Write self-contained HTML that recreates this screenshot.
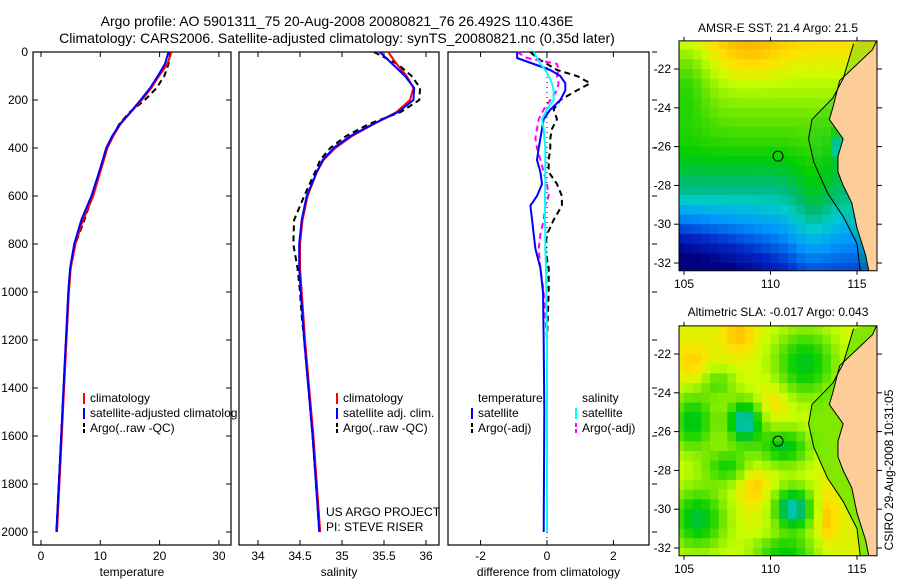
<!DOCTYPE html>
<html><head><meta charset="utf-8"><style>
html,body{margin:0;padding:0;background:#fff;}
svg{display:block;font-family:"Liberation Sans",sans-serif;}
</style></head><body>
<svg id="fig" width="900" height="580" xmlns="http://www.w3.org/2000/svg">
<text x="337" y="26" font-size="14" text-anchor="middle">Argo profile: AO 5901311_75 20-Aug-2008 20080821_76 26.492S 110.436E</text>
<text x="337" y="43" font-size="14" text-anchor="middle">Climatology: CARS2006. Satellite-adjusted climatology: synTS_20080821.nc (0.35d later)</text>
<text x="778" y="32" font-size="12" text-anchor="middle">AMSR-E SST: 21.4 Argo: 21.5</text>
<text x="778" y="316" font-size="12" text-anchor="middle">Altimetric SLA: -0.017 Argo: 0.043</text>
<text x="0" y="0" font-size="12" text-anchor="middle" transform="translate(893,470) rotate(-90)">CSIRO 29-Aug-2008 10:31:05</text>
</svg>
<script>
const depth = [0,50,100,150,200,250,300,350,400,450,500,600,700,800,900,1000,1100,1200,1400,1600,1800,2000];
const tempClim = [22.0,21.3,19.9,18.6,17.0,15.2,13.4,12.2,11.2,10.6,10.0,8.8,7.1,5.8,5.0,4.7,4.5,4.3,3.9,3.5,3.1,2.7];
const tempSat = [21.5,20.9,19.7,18.4,16.8,15.1,13.3,12.0,11.0,10.4,9.8,8.5,6.8,5.6,4.9,4.6,4.4,4.2,3.8,3.4,3.0,2.6];
const tempArgo = [21.8,21.5,20.8,19.5,17.5,15.0,13.2,12.1,11.1,10.5,9.8,8.7,7.3,5.8,5.0,4.6,4.4,4.2,3.8,3.4,3.0,2.6];
const salClim = [35.55,35.65,35.77,35.85,35.81,35.65,35.38,35.12,34.92,34.78,34.70,34.59,34.53,34.50,34.50,34.52,34.54,34.56,34.61,34.66,34.70,34.74];
const salSat = [35.45,35.60,35.75,35.86,35.85,35.67,35.37,35.10,34.90,34.77,34.70,34.58,34.52,34.49,34.49,34.51,34.53,34.55,34.60,34.65,34.69,34.73];
const salArgo = [35.38,35.66,35.83,35.93,35.92,35.70,35.32,35.05,34.86,34.74,34.68,34.55,34.43,34.42,34.47,34.50,34.52,34.55,34.60,34.65,34.69,34.73];
const diffDepth = [0,25,50,75,100,130,160,200,240,280,320,360,400,450,500,550,600,640,700,760,820,900,1000,1200,1500,2000];
const dTempSat = [-0.9,-0.9,-0.4,0.1,0.4,0.55,0.55,0.4,0.1,-0.1,-0.15,-0.2,-0.25,-0.3,-0.2,-0.15,-0.3,-0.5,-0.45,-0.4,-0.35,-0.2,-0.12,-0.1,-0.08,-0.1];
const dTempArgo = [-0.5,-0.3,0.0,0.3,0.9,1.3,0.9,0.4,0.2,0.3,0.15,0.1,0.1,0.05,0.05,0.3,0.45,0.45,0.2,0.0,-0.05,0.05,0.05,0.0,0.0,0.0];
const dSalSat = [-0.4,-0.3,-0.2,-0.05,0.05,0.15,0.2,0.2,0.0,-0.15,-0.1,-0.08,-0.05,-0.05,-0.05,-0.05,-0.06,-0.06,-0.06,-0.05,-0.05,-0.03,-0.02,0.0,0.0,0.0];
const dSalArgo = [-0.9,-0.6,0.3,0.35,0.3,0.35,0.3,0.1,-0.1,-0.25,-0.3,-0.35,-0.3,-0.2,-0.1,0.0,0.05,-0.05,-0.1,-0.2,-0.25,-0.2,-0.1,0.0,0.0,0.0];
const depthTicks = [0,200,400,600,800,1000,1200,1400,1600,1800,2000];
const tempTicks = [0,10,20,30];
const salTicks = [34,34.5,35,35.5,36];
const salTickLabels = ["34","34.5","35","35.5","36"];
const diffTicks = [-2,0,2];
const lonTicks = [105,110,115];
const latTicks = [-22,-24,-26,-28,-30,-32];

const NS='http://www.w3.org/2000/svg';
const svg=document.getElementById('fig');
function mk(tag,attrs,parent){const e=document.createElementNS(NS,tag);for(const k in attrs)e.setAttribute(k,attrs[k]);(parent||svg).appendChild(e);return e;}
const TOP=52, BOT=545;
const yD=d=>TOP+d*0.24;

const panels=[
 {name:'temperature',x0:33,x1:231,fx:v=>41+v*5.93,ticks:tempTicks,labels:tempTicks.map(String),xlabel:'temperature',yl:true,rt:'in'},
 {name:'salinity',x0:239,x1:439,fx:v=>258+(v-34)*84,ticks:salTicks,labels:salTickLabels,xlabel:'salinity',yl:false,rt:'none'},
 {name:'difference',x0:448,x1:649,fx:v=>547+v*33.2,ticks:diffTicks,labels:diffTicks.map(String),xlabel:'difference from climatology',yl:false,rt:'out'}
];
panels.forEach(p=>{
  const r=mk('rect',{x:p.x0,y:TOP,width:p.x1-p.x0,height:BOT-TOP,fill:'none',stroke:'#000','stroke-width':1.2});
  
  
  p.ticks.forEach((t,i)=>{
    const x=p.fx(t);
    const l=mk('line',{x1:x,x2:x,y1:TOP,y2:TOP+5,stroke:'#000'});
    
    
    mk('line',{x1:x,x2:x,y1:BOT,y2:BOT-5,stroke:'#000'});
    const tx=mk('text',{x:x,y:BOT+15,'font-size':12,'text-anchor':'middle'});
    tx.textContent=p.labels[i];
    
    
  });
  const xl=mk('text',{x:(p.x0+p.x1)/2,y:BOT+31,'font-size':12,'text-anchor':'middle'});
  xl.textContent=p.xlabel;
  
  
  depthTicks.forEach(d=>{
    const y=yD(d);
    if(p.yl){
      mk('line',{x1:p.x0,x2:p.x0+5,y1:y,y2:y,stroke:'#000'});
      const t=mk('text',{x:p.x0-5,y:y+4,'font-size':12,'text-anchor':'end'});
      t.textContent=String(d);
      
      
    }
    if(p.rt==='in') mk('line',{x1:p.x1,x2:p.x1-5,y1:y,y2:y,stroke:'#000'});
    if(p.rt==='out') mk('line',{x1:p.x1+3,x2:p.x1+8,y1:y,y2:y,stroke:'#000'});
  });
});
function series(p,vals,deps,color,dash,name,w){
  const pts=vals.map((v,i)=>p.fx(v).toFixed(1)+','+yD(deps[i]).toFixed(1)).join(' ');
  const a={points:pts,fill:'none',stroke:color,'stroke-width':w||2,'stroke-linejoin':'round'};
  if(dash)a['stroke-dasharray']=dash;
  const e=mk('polyline',a);
  
  
}
const P=panels;
series(P[0],tempArgo,depth,'#000','6,4','temp-argo-line');
series(P[0],tempClim,depth,'#f00',null,'temp-climatology-line');
series(P[0],tempSat,depth,'#00f',null,'temp-satellite-line');
series(P[1],salArgo,depth,'#000','6,4','sal-argo-line');
series(P[1],salClim,depth,'#f00',null,'sal-climatology-line');
series(P[1],salSat,depth,'#00f',null,'sal-satellite-line');
const z=mk('line',{x1:P[2].fx(0),x2:P[2].fx(0),y1:TOP,y2:BOT,stroke:'#000','stroke-dasharray':'1,4'});


series(P[2],dTempArgo,diffDepth,'#000','6,4','diff-temp-argo-line');
series(P[2],dSalArgo,diffDepth,'#f0f','6,4','diff-sal-argo-line');
series(P[2],dTempSat,diffDepth,'#00f',null,'diff-temp-satellite-line');
series(P[2],dSalSat,diffDepth,'#0ff',null,'diff-sal-satellite-line');

function legend(x,y,items,name){
  items.forEach((it,i)=>{
    const yy=y+i*15;
    if(it[0]){const l=mk('line',{x1:x,x2:x,y1:yy-9,y2:yy+2,stroke:it[0],'stroke-width':2});
      if(it[2])l.setAttribute('stroke-dasharray','4,2');}
    const t=mk('text',{x:x+6,y:yy,'font-size':12});
    t.textContent=it[1];
    
    
  });
}
legend(84,402,[['#f00','climatology'],['#00f','satellite-adjusted climatolog'],['#000','Argo(..raw -QC)',1]],'temp-legend');
legend(337,402,[['#f00','climatology'],['#00f','satellite adj. clim.'],['#000','Argo(..raw -QC)',1]],'sal-legend');
legend(472,402,[[null,'temperature'],['#00f','satellite'],['#000','Argo(-adj)',1]],'diff-temp-legend');
legend(576,402,[[null,'salinity'],['#0ff','satellite'],['#f0f','Argo(-adj)',1]],'diff-sal-legend');
const c1=mk('text',{x:326,y:516,'font-size':12});c1.textContent='US ARGO PROJECT';

const c2=mk('text',{x:326,y:531,'font-size':12});c2.textContent='PI: STEVE RISER';


// maps
const stops=[[0,[0,0,128]],[0.15,[0,40,200]],[0.3,[0,150,255]],[0.42,[0,205,205]],[0.5,[0,185,120]],[0.6,[0,205,0]],[0.72,[110,230,0]],[0.82,[200,255,0]],[0.9,[255,225,0]],[1,[255,165,0]]];
function cmap(v){v=Math.max(0,Math.min(1,v));for(let i=1;i<stops.length;i++){if(v<=stops[i][0]){const a=stops[i-1],b=stops[i],t=(v-a[0])/(b[0]-a[0]);return 'rgb('+a[1].map((c,k)=>Math.round(c+(b[1][k]-c)*t)).join(',')+')';}}return 'rgb(255,165,0)';}
const g=(lon,lat,cx,cy,rx,ry)=>Math.exp(-((lon-cx)**2/(rx*rx)+(lat-cy)**2/(ry*ry)));
function sst(lon,lat){
  let v = lat>-26 ? 0.64+0.05*(lat+26) : 0.64-0.07*(-26-lat);
  v+=0.07*g(lon,lat,108.8,-21,2,1.5);
  v-=0.15*g(lon,lat,105,-22.5,1.5,2.5);
  if(lat<-28.5)v-=0.012*(-28.5-lat)*Math.max(0,(112-lon));
  v+=0.1*g(lon,lat,112.5,-29,1.2,2.5);
  v-=0.35*g(lon,lat,114,-26,0.4,0.6);
  return v;}
function sla(lon,lat){
  let v=0.85;
  const b=[[105.5,-25.5,1.3,1.5,-0.28],[108.5,-25.5,1.0,1.1,-0.42],[110.8,-26.8,1.5,1.0,-0.28],[112,-22.5,1.8,1.8,-0.28],[105.8,-30.5,1.6,1.6,-0.3],[111.3,-30,1.1,1.1,-0.42],[107.5,-27.8,1.3,0.9,-0.22],[109,-28.8,0.9,1.0,0.1],[113.3,-30.5,0.6,1.4,0.1],[108.2,-21,1.0,1.0,0.1],[105.5,-22.5,1.0,1.0,0.08],[110.2,-24.5,1.0,1.0,0.08],[110.8,-32.2,1.8,0.8,-0.25],[107,-23.5,1.0,0.8,-0.15]];
  b.forEach(q=>v+=q[4]*g(lon,lat,q[0],q[1],q[2],q[3]));
  return v;}
const coast=[[116.2,-20.4],[115.9,-21.0],[114.0,-22.6],[113.6,-24.0],[113.4,-24.6],[114.2,-25.6],[113.9,-26.5],[113.9,-27.3],[114.2,-28.0],[114.7,-28.9],[115.0,-30.2],[115.5,-31.6],[115.7,-32.5],[116.2,-32.5]];
const shelf=[[114.8,-20.7],[114.2,-22.5],[113.6,-23.5],[112.4,-24.6],[112.2,-25.6],[112.5,-26.8],[113.3,-28.4],[114.2,-29.6],[115.0,-31.0],[115.2,-32.5]];
function drawMap(oy,fn,name,shelfV,shelfOp){
  const X=lon=>684+(lon-105)*17.3, Y=lat=>oy+(-22-lat)*19.4;
  const grp=mk('g',{});
  
  
  const cp=mk('clipPath',{id:name+'-clip'},grp);mk('rect',{x:679,y:Y(-20.55),width:198,height:Y(-32.4)-Y(-20.55)},cp);
  const inner=mk('g',{'clip-path':'url(#'+name+'-clip)'},grp);
  for(let lon=104.5;lon<116.5;lon+=0.5){for(let lat=-20.5;lat>-32.6;lat-=0.5){
    let v=fn(lon+0.25,lat-0.25);
    mk('rect',{x:X(lon).toFixed(1),y:Y(lat).toFixed(1),width:9.2,height:10.2,fill:cmap(v)},inner);}}
  const sh=shelf.map(p=>X(p[0])+','+Y(p[1])).concat(coast.slice().reverse().map(p=>X(p[0])+','+Y(p[1])));
  mk('polygon',{points:sh.join(' '),fill:cmap(shelfV),opacity:shelfOp},inner);
  const land=coast.map(p=>X(p[0])+','+Y(p[1])).concat([X(117)+','+Y(-32.6),X(117)+','+Y(-20.3)]);
  const lp=mk('polygon',{points:land.join(' '),fill:'#fccc99',stroke:'#000','stroke-width':1},inner);
  
  
  mk('polyline',{points:shelf.map(p=>X(p[0])+','+Y(p[1])).join(' '),fill:'none',stroke:'#000','stroke-width':1},inner);
  mk('rect',{x:679,y:Y(-20.55),width:198,height:Y(-32.4)-Y(-20.55),fill:'none',stroke:'#000','stroke-width':1},grp);
  const mk1=mk('circle',{cx:X(110.436),cy:Y(-26.492),r:5,fill:'none',stroke:'#000','stroke-width':1},grp);
  
  
  latTicks.forEach(l=>{const y=Y(l);mk('line',{x1:679,x2:674,y1:y,y2:y,stroke:'#000'},grp);mk('line',{x1:877,x2:882,y1:y,y2:y,stroke:'#000'},grp);
    const t=mk('text',{x:671,y:y+4,'font-size':12,'text-anchor':'end'},grp);t.textContent=String(l);});
  const yb=Y(-32.4);
  lonTicks.forEach(l=>{const x=X(l);mk('line',{x1:x,x2:x,y1:yb,y2:yb+4,stroke:'#000'},grp);mk('line',{x1:x,x2:x,y1:Y(-20.55),y2:Y(-20.55)-4,stroke:'#000'},grp);
    const t=mk('text',{x:x,y:yb+17,'font-size':12,'text-anchor':'middle'},grp);t.textContent=String(l);});
}
drawMap(69,sst,'sst-map',0.55,0.25);
drawMap(354,sla,'sla-map',0.68,0.6);
</script>
</body></html>
